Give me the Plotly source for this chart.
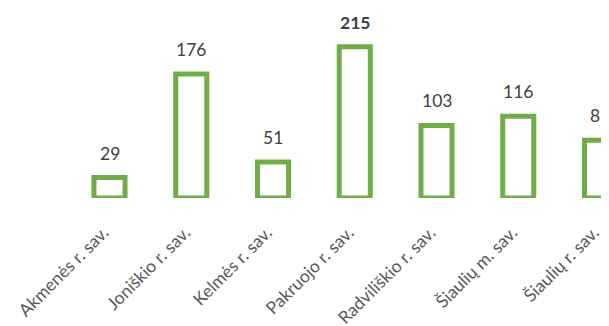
import plotly.graph_objects as go

categories = ["Akmenės r. sav.", "Joniškio r. sav.", "Kelmės r. sav.", "Pakruojo r. sav.",
              "Radviliškio r. sav.", "Šiaulių m. sav.", "Šiaulių r. sav."]
values = [29, 176, 51, 215, 103, 116, 82]
bold_flags = [False, False, False, True, False, False, False]

labels = [f"<b>{v}</b>" if b else str(v) for v, b in zip(values, bold_flags)]
xs = list(range(len(categories)))

fig = go.Figure()
fig.add_trace(go.Bar(
    x=xs, y=values,
    width=0.38,
    marker=dict(color="white", line=dict(color="#70AD47", width=5)),
    hoverinfo="skip",
))

for x, v, t in zip(xs, values, labels):
    fig.add_annotation(x=x, y=v, text=t, showarrow=False, yanchor="bottom",
                       yshift=12, font=dict(family="Lato", size=17.5, color="#404040"))

fig.update_layout(
    width=601, height=318,
    margin=dict(l=0, r=0, t=14, b=128),
    paper_bgcolor="white", plot_bgcolor="white",
    showlegend=False,
    xaxis=dict(
        range=[-1.2416, 6.110],
        tickmode="array", tickvals=xs, ticktext=categories,
        tickangle=-45, showgrid=False, zeroline=False, showline=False,
        ticks="", automargin=False,
        tickfont=dict(family="Lato", size=17.5, color="#595959"),
        ticklabelstandoff=20, ticklabelshift=-6,
        ticklabeloverflow="allow",
    ),
    yaxis=dict(range=[0, 250], visible=False, showgrid=False, zeroline=False),
)

fig.write_html("out.html")
